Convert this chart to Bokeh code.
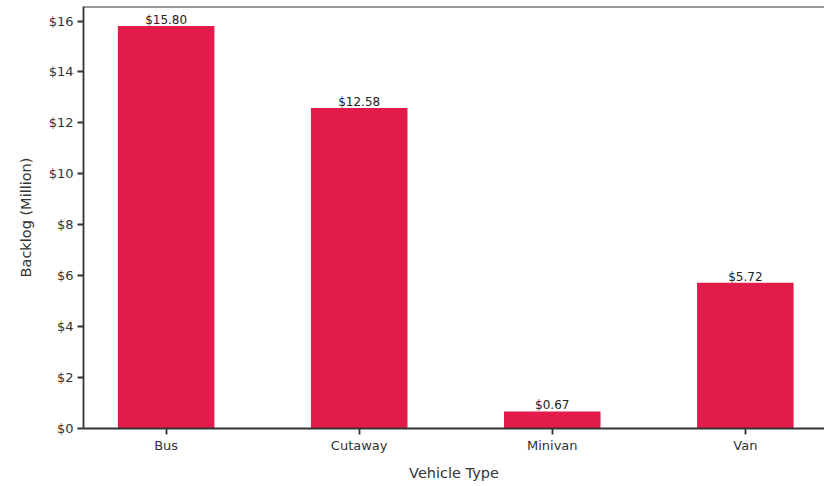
from bokeh.plotting import figure
from bokeh.models import Range1d, FixedTicker, Span, NumeralTickFormatter, ColumnDataSource
from bokeh.core.properties import value
from bokeh.embed import file_html
from bokeh.resources import INLINE

categories = ["Bus", "Cutaway", "Minivan", "Van"]
backlog = [15.80, 12.58, 0.67, 5.72]
labels = ["$15.80", "$12.58", "$0.67", "$5.72"]
y_ticks = [0, 2, 4, 6, 8, 10, 12, 14, 16]

xs = list(range(len(categories)))
src = ColumnDataSource(dict(x=xs, top=backlog, label=labels))

FONT = "DejaVu Sans"

p = figure(width=824, height=485, output_backend="svg", toolbar_location=None,
           x_range=Range1d(-0.428, 3.41), y_range=Range1d(0, 16.57),
           min_border_left=83, min_border_right=0, min_border_top=6, min_border_bottom=57)
p.outline_line_color = None
p.grid.visible = False
p.background_fill_color = "white"
p.border_fill_color = "white"

p.vbar(x="x", top="top", width=0.5, source=src, fill_color="#E31B4B", line_color=None)
p.text(x="x", y="top", text="label", source=src, text_align="center", text_baseline="bottom",
       text_font=value(FONT), text_font_size="12px", text_color="#222222", y_offset=1)

top_line = Span(location=16.57, dimension="width", line_color="#333333", line_width=1.8)
p.add_layout(top_line)

for ax in (p.xaxis[0], p.yaxis[0]):
    ax.axis_line_color = "#333333"
    ax.axis_line_width = 1.8
    ax.major_tick_line_color = "#333333"
    ax.major_tick_line_width = 1.8
    ax.major_tick_in = 0
    ax.major_tick_out = 6
    ax.minor_tick_line_color = None
    ax.major_label_text_font = FONT
    ax.major_label_text_font_size = "13px"
    ax.major_label_text_color = "#333333"
    ax.axis_label_text_font = FONT
    ax.axis_label_text_font_size = "14.5px"
    ax.axis_label_text_font_style = "normal"
    ax.axis_label_text_color = "#333333"

p.xaxis.ticker = FixedTicker(ticks=xs)
p.xaxis.major_label_overrides = {i: c for i, c in zip(xs, categories)}
p.xaxis.axis_label = "Vehicle Type"
p.xaxis.major_label_standoff = 3
p.xaxis.axis_label_standoff = 9

p.yaxis.ticker = FixedTicker(ticks=y_ticks)
p.yaxis.formatter = NumeralTickFormatter(format="$0")
p.yaxis.axis_label = "Backlog (Million)"
p.yaxis.major_label_standoff = 4
p.yaxis.axis_label_standoff = 12

open("out.html", "w").write(file_html(p, INLINE))
